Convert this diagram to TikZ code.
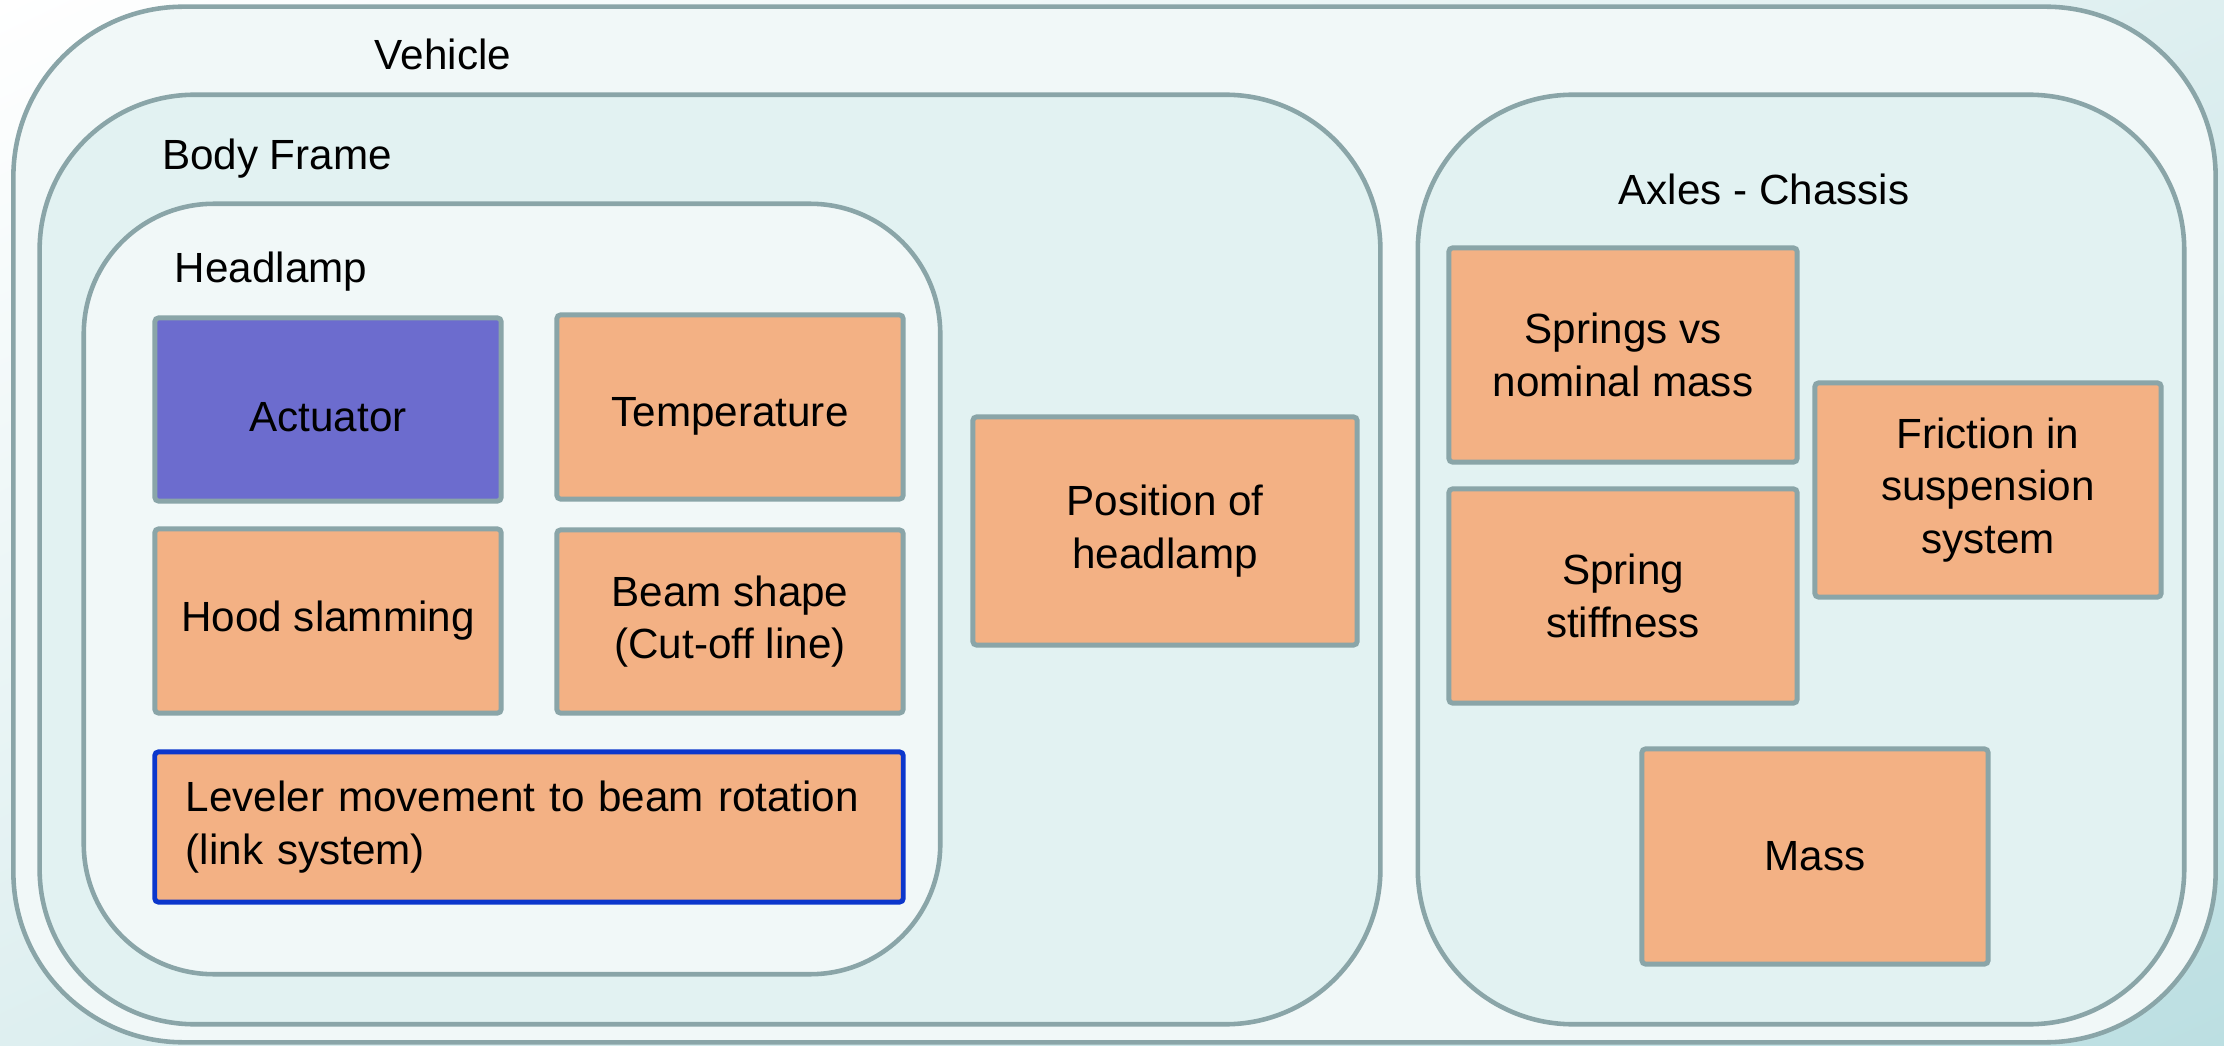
\documentclass[tikz,border=0pt]{standalone}
\usepackage{fontspec}
\setmainfont{Liberation Sans}
\usetikzlibrary{shadings}
\definecolor{rimgray}{RGB}{138,165,168}
\definecolor{paleshell}{RGB}{241,248,248}
\definecolor{tealshell}{RGB}{226,242,242}
\definecolor{itemorange}{RGB}{243,177,132}
\definecolor{itempurple}{RGB}{108,108,206}
\definecolor{levelblue}{RGB}{12,55,204}
\definecolor{bgteal}{RGB}{188,223,226}
\definecolor{bgmid}{RGB}{222,239,240}
\begin{document}
\begin{tikzpicture}[x=0.01cm,y=-0.01cm,
    shell/.style={draw=rimgray,line width=1.3pt,rectangle},
    title/.style={font=\fontsize{12}{15}\selectfont,inner sep=0pt},
    item/.style={draw=rimgray,line width=1.4pt,fill=itemorange,rounded corners=1pt,
      align=center,font=\fontsize{12}{15}\selectfont,minimum width=3.46cm}]
  \shade[upper left=white,upper right=bgmid,lower left=bgmid,lower right=bgteal]
    (0,0) rectangle (2224,1046);
  \useasboundingbox (0,0) rectangle (2224,1046);
  % containers
  \node[shell,fill=paleshell,rounded corners=1.7cm,minimum width=22.01cm,minimum height=10.35cm]
    (vehicle) at (1114.5,524.5) {};
  \node[shell,fill=tealshell,rounded corners=1.55cm,minimum width=13.40cm,minimum height=9.29cm]
    (body) at (710,559.5) {};
  \node[shell,fill=paleshell,rounded corners=1.3cm,minimum width=8.56cm,minimum height=7.70cm]
    (headlamp) at (512,589) {};
  \node[shell,fill=tealshell,rounded corners=1.55cm,minimum width=7.66cm,minimum height=9.29cm]
    (axles) at (1801,559.5) {};
  \node[title] (vehiclelbl) at (443,54) {Vehicle};
  \node[title] (bodylbl) at (277,159) {Body Frame};
  \node[title] (headlamplbl) at (271,272) {Headlamp};
  \node[title] (axleslbl) at (1764,189) {Axles - Chassis};
  % headlamp items
  \node[item,fill=itempurple,text height=12.6pt,minimum height=1.83cm] (actuator) at (328,409.5) {Actuator};
  \node[item,text height=13.4pt,minimum height=1.84cm] (temperature) at (730,407) {Temperature};
  \node[item,minimum height=1.84cm] (hood) at (328,621) {Hood slamming};
  \node[item,minimum height=1.83cm] (beam) at (730,621.5) {Beam shape\\(Cut-off line)};
  \node[item,draw=levelblue,align=left,text width=6.86cm,inner xsep=0.31cm,minimum height=1.50cm]
    (leveler) at (529,827) {Leveler movement to beam rotation\\(link system)};
  % body frame item
  \node[item,minimum width=3.84cm,minimum height=2.28cm] (position) at (1165,531) {Position of\\headlamp};
  % axles items
  \node[item,minimum width=3.48cm,minimum height=2.14cm] (springs) at (1623,355) {Springs vs\\nominal mass};
  \node[item,minimum width=3.48cm,minimum height=2.14cm] (stiffness) at (1623,596) {Spring\\stiffness};
  \node[item,minimum height=2.14cm] (friction) at (1988,490) {Friction in\\suspension\\system};
  \node[item,minimum height=2.15cm] (mass) at (1815,856.5) {Mass};
\end{tikzpicture}
\end{document}
